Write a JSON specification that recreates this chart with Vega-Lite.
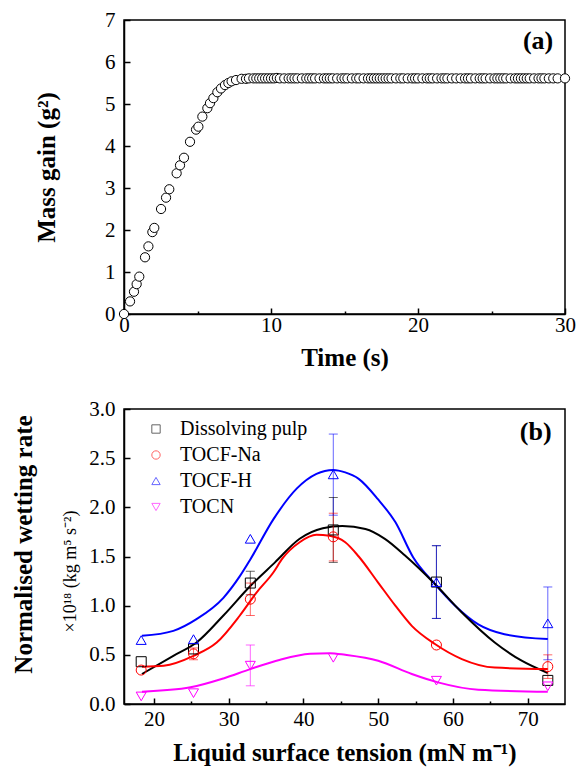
{
  "$schema": "https://vega.github.io/schema/vega-lite/v6.json",
  "padding": {"left": 10, "top": 8, "right": 5, "bottom": 5},
  "background": "white",
  "bounds": "flush",
  "spacing": 95,
  "config": {
    "font": "Liberation Serif",
    "view": {"stroke": "black", "strokeWidth": 1.5},
    "axis": {
      "grid": false,
      "domainColor": "black", "domainWidth": 1.5,
      "tickColor": "black", "tickWidth": 1.5,
      "labelColor": "black", "labelFont": "Liberation Serif", "labelFontSize": 21,
      "labelFlush": false, "labelOverlap": false,
      "titleColor": "black", "titleFont": "Liberation Serif", "titleFontSize": 25, "titleFontWeight": "bold"
    }
  },
  "datasets": {
    "mass": [
      {"t": 0, "m": 0}, {"t": 0.41, "m": 0.30}, {"t": 0.68, "m": 0.53}, {"t": 0.86, "m": 0.71}, {"t": 1.04, "m": 0.89},
      {"t": 1.43, "m": 1.35}, {"t": 1.66, "m": 1.61}, {"t": 1.93, "m": 1.95}, {"t": 2.06, "m": 2.05}, {"t": 2.52, "m": 2.50},
      {"t": 2.86, "m": 2.77}, {"t": 3.08, "m": 2.97}, {"t": 3.58, "m": 3.35}, {"t": 3.81, "m": 3.54}, {"t": 4.08, "m": 3.72},
      {"t": 4.49, "m": 4.10}, {"t": 4.90, "m": 4.39}, {"t": 5.06, "m": 4.46}, {"t": 5.33, "m": 4.70}, {"t": 5.67, "m": 4.90},
      {"t": 5.85, "m": 5.02}, {"t": 6.08, "m": 5.14}, {"t": 6.35, "m": 5.28}, {"t": 6.60, "m": 5.37}, {"t": 6.87, "m": 5.45},
      {"t": 7.10, "m": 5.50}, {"t": 7.32, "m": 5.54}, {"t": 7.62, "m": 5.57}, {"t": 8.0, "m": 5.60}, {"t": 8.3, "m": 5.60},
      {"t": 8.5, "m": 5.61}, {"t": 8.8, "m": 5.61}, {"t": 9.0, "m": 5.61}, {"t": 9.2, "m": 5.61}, {"t": 9.4, "m": 5.61},
      {"t": 9.6, "m": 5.61}, {"t": 9.8, "m": 5.61}, {"t": 10.0, "m": 5.61}, {"t": 10.2, "m": 5.61}, {"t": 10.4, "m": 5.62},
      {"t": 10.6, "m": 5.61}, {"t": 10.9, "m": 5.61}, {"t": 11.2, "m": 5.61}, {"t": 11.4, "m": 5.61}, {"t": 11.6, "m": 5.61},
      {"t": 11.8, "m": 5.61}, {"t": 12.1, "m": 5.61}, {"t": 12.4, "m": 5.61}, {"t": 12.6, "m": 5.61}, {"t": 12.8, "m": 5.61},
      {"t": 13.0, "m": 5.61}, {"t": 13.3, "m": 5.61}, {"t": 13.6, "m": 5.61}, {"t": 13.8, "m": 5.61}, {"t": 14.0, "m": 5.61},
      {"t": 14.2, "m": 5.61}, {"t": 14.5, "m": 5.61}, {"t": 14.8, "m": 5.61}, {"t": 15.0, "m": 5.61}, {"t": 15.2, "m": 5.61},
      {"t": 15.5, "m": 5.61}, {"t": 15.8, "m": 5.61}, {"t": 16.0, "m": 5.61}, {"t": 16.3, "m": 5.61}, {"t": 16.6, "m": 5.61},
      {"t": 16.8, "m": 5.61}, {"t": 17.0, "m": 5.61}, {"t": 17.2, "m": 5.61}, {"t": 17.4, "m": 5.61}, {"t": 17.6, "m": 5.61},
      {"t": 17.8, "m": 5.61}, {"t": 18.0, "m": 5.61}, {"t": 18.2, "m": 5.61}, {"t": 18.5, "m": 5.61}, {"t": 18.8, "m": 5.61},
      {"t": 19.0, "m": 5.61}, {"t": 19.3, "m": 5.61}, {"t": 19.6, "m": 5.61}, {"t": 19.8, "m": 5.61}, {"t": 20.0, "m": 5.61},
      {"t": 20.3, "m": 5.61}, {"t": 20.6, "m": 5.61}, {"t": 20.8, "m": 5.61}, {"t": 21.0, "m": 5.61}, {"t": 21.3, "m": 5.61},
      {"t": 21.6, "m": 5.61}, {"t": 21.8, "m": 5.61}, {"t": 22.0, "m": 5.61}, {"t": 22.3, "m": 5.61}, {"t": 22.6, "m": 5.61},
      {"t": 22.9, "m": 5.61}, {"t": 23.2, "m": 5.61}, {"t": 23.4, "m": 5.61}, {"t": 23.6, "m": 5.61}, {"t": 23.9, "m": 5.61},
      {"t": 24.2, "m": 5.61}, {"t": 24.4, "m": 5.61}, {"t": 24.6, "m": 5.61}, {"t": 24.9, "m": 5.61}, {"t": 25.2, "m": 5.61},
      {"t": 25.4, "m": 5.61}, {"t": 25.6, "m": 5.61}, {"t": 25.8, "m": 5.61}, {"t": 26.0, "m": 5.61}, {"t": 26.3, "m": 5.61},
      {"t": 26.6, "m": 5.61}, {"t": 26.8, "m": 5.61}, {"t": 27.0, "m": 5.61}, {"t": 27.2, "m": 5.61}, {"t": 27.4, "m": 5.61},
      {"t": 27.6, "m": 5.61}, {"t": 27.9, "m": 5.61}, {"t": 28.2, "m": 5.61}, {"t": 28.4, "m": 5.61}, {"t": 28.6, "m": 5.61},
      {"t": 28.9, "m": 5.61}, {"t": 29.2, "m": 5.61}, {"t": 29.5, "m": 5.61}, {"t": 30.0, "m": 5.61}
    ],
    "points": [
      {"series": "Dissolving pulp", "x": 18.3, "y": 0.43}, {"series": "Dissolving pulp", "x": 25.3, "y": 0.56},
      {"series": "Dissolving pulp", "x": 32.9, "y": 1.23}, {"series": "Dissolving pulp", "x": 44.0, "y": 1.77},
      {"series": "Dissolving pulp", "x": 57.8, "y": 1.24}, {"series": "Dissolving pulp", "x": 72.7, "y": 0.24},
      {"series": "TOCF-Na", "x": 18.3, "y": 0.345}, {"series": "TOCF-Na", "x": 25.3, "y": 0.51},
      {"series": "TOCF-Na", "x": 32.9, "y": 1.066}, {"series": "TOCF-Na", "x": 44.0, "y": 1.70},
      {"series": "TOCF-Na", "x": 57.8, "y": 0.60}, {"series": "TOCF-Na", "x": 72.7, "y": 0.38},
      {"series": "TOCF-H", "x": 18.3, "y": 0.65}, {"series": "TOCF-H", "x": 25.3, "y": 0.66},
      {"series": "TOCF-H", "x": 32.9, "y": 1.68}, {"series": "TOCF-H", "x": 44.0, "y": 2.335},
      {"series": "TOCF-H", "x": 57.8, "y": 1.24}, {"series": "TOCF-H", "x": 72.7, "y": 0.82},
      {"series": "TOCN", "x": 18.3, "y": 0.077}, {"series": "TOCN", "x": 25.3, "y": 0.11},
      {"series": "TOCN", "x": 32.9, "y": 0.39}, {"series": "TOCN", "x": 44.0, "y": 0.47},
      {"series": "TOCN", "x": 57.8, "y": 0.237}, {"series": "TOCN", "x": 72.7, "y": 0.18}
    ],
    "errors": [
      {"series": "Dissolving pulp", "x": 32.9, "lo": 1.11, "hi": 1.35},
      {"series": "Dissolving pulp", "x": 44.0, "lo": 1.44, "hi": 2.10},
      {"series": "Dissolving pulp", "x": 57.8, "lo": 0.87, "hi": 1.61},
      {"series": "TOCF-Na", "x": 25.3, "lo": 0.45, "hi": 0.57},
      {"series": "TOCF-Na", "x": 32.9, "lo": 0.90, "hi": 1.23},
      {"series": "TOCF-Na", "x": 44.0, "lo": 1.455, "hi": 1.94},
      {"series": "TOCF-Na", "x": 72.7, "lo": 0.26, "hi": 0.50},
      {"series": "TOCF-H", "x": 44.0, "lo": 1.92, "hi": 2.745},
      {"series": "TOCF-H", "x": 57.8, "lo": 0.87, "hi": 1.61},
      {"series": "TOCF-H", "x": 72.7, "lo": 0.45, "hi": 1.19},
      {"series": "TOCN", "x": 32.9, "lo": 0.185, "hi": 0.60}
    ],
    "curves": [
      {"series": "TOCF-H", "x": 18.4, "y": 0.693}, {"series": "TOCF-H", "x": 22.6, "y": 0.744}, {"series": "TOCF-H", "x": 25.7, "y": 0.863},
      {"series": "TOCF-H", "x": 29.3, "y": 1.08}, {"series": "TOCF-H", "x": 31.5, "y": 1.30}, {"series": "TOCF-H", "x": 32.9, "y": 1.47},
      {"series": "TOCF-H", "x": 36.0, "y": 1.88}, {"series": "TOCF-H", "x": 39.1, "y": 2.19}, {"series": "TOCF-H", "x": 41.75, "y": 2.34},
      {"series": "TOCF-H", "x": 44.0, "y": 2.38}, {"series": "TOCF-H", "x": 45.6, "y": 2.355}, {"series": "TOCF-H", "x": 47.4, "y": 2.29},
      {"series": "TOCF-H", "x": 50.0, "y": 2.08}, {"series": "TOCF-H", "x": 52.3, "y": 1.85}, {"series": "TOCF-H", "x": 54.7, "y": 1.49},
      {"series": "TOCF-H", "x": 57.6, "y": 1.22}, {"series": "TOCF-H", "x": 60.3, "y": 1.0}, {"series": "TOCF-H", "x": 63.4, "y": 0.81},
      {"series": "TOCF-H", "x": 66.9, "y": 0.71}, {"series": "TOCF-H", "x": 72.7, "y": 0.66},
      {"series": "Dissolving pulp", "x": 18.4, "y": 0.305}, {"series": "Dissolving pulp", "x": 22.6, "y": 0.49}, {"series": "Dissolving pulp", "x": 25.7, "y": 0.625},
      {"series": "Dissolving pulp", "x": 29.3, "y": 0.90}, {"series": "Dissolving pulp", "x": 32.9, "y": 1.20}, {"series": "Dissolving pulp", "x": 36.2, "y": 1.44},
      {"series": "Dissolving pulp", "x": 39.5, "y": 1.68}, {"series": "Dissolving pulp", "x": 42.6, "y": 1.787}, {"series": "Dissolving pulp", "x": 45.2, "y": 1.81},
      {"series": "Dissolving pulp", "x": 48.3, "y": 1.78}, {"series": "Dissolving pulp", "x": 50.9, "y": 1.68}, {"series": "Dissolving pulp", "x": 53.6, "y": 1.51},
      {"series": "Dissolving pulp", "x": 57.6, "y": 1.22}, {"series": "Dissolving pulp", "x": 61.2, "y": 0.93}, {"series": "Dissolving pulp", "x": 65.6, "y": 0.625},
      {"series": "Dissolving pulp", "x": 69.2, "y": 0.44}, {"series": "Dissolving pulp", "x": 72.7, "y": 0.315},
      {"series": "TOCF-Na", "x": 18.4, "y": 0.38}, {"series": "TOCF-Na", "x": 21.3, "y": 0.39}, {"series": "TOCF-Na", "x": 25.3, "y": 0.49},
      {"series": "TOCF-Na", "x": 28.4, "y": 0.625}, {"series": "TOCF-Na", "x": 31.5, "y": 0.90}, {"series": "TOCF-Na", "x": 33.7, "y": 1.13},
      {"series": "TOCF-Na", "x": 36.0, "y": 1.34}, {"series": "TOCF-Na", "x": 37.2, "y": 1.48}, {"series": "TOCF-Na", "x": 39.5, "y": 1.645},
      {"series": "TOCF-Na", "x": 41.75, "y": 1.72}, {"series": "TOCF-Na", "x": 43.5, "y": 1.71}, {"series": "TOCF-Na", "x": 45.6, "y": 1.645},
      {"series": "TOCF-Na", "x": 47.4, "y": 1.50}, {"series": "TOCF-Na", "x": 50.0, "y": 1.235}, {"series": "TOCF-Na", "x": 52.3, "y": 1.0},
      {"series": "TOCF-Na", "x": 54.5, "y": 0.795}, {"series": "TOCF-Na", "x": 57.6, "y": 0.61}, {"series": "TOCF-Na", "x": 61.2, "y": 0.457},
      {"series": "TOCF-Na", "x": 65.6, "y": 0.37}, {"series": "TOCF-Na", "x": 72.7, "y": 0.355},
      {"series": "TOCN", "x": 18.4, "y": 0.125}, {"series": "TOCN", "x": 24.9, "y": 0.17}, {"series": "TOCN", "x": 29.3, "y": 0.26},
      {"series": "TOCN", "x": 32.9, "y": 0.355}, {"series": "TOCN", "x": 36.9, "y": 0.45}, {"series": "TOCN", "x": 40.9, "y": 0.51},
      {"series": "TOCN", "x": 43.5, "y": 0.517}, {"series": "TOCN", "x": 45.6, "y": 0.50}, {"series": "TOCN", "x": 50.0, "y": 0.44},
      {"series": "TOCN", "x": 54.5, "y": 0.305}, {"series": "TOCN", "x": 58.0, "y": 0.22}, {"series": "TOCN", "x": 63.4, "y": 0.145},
      {"series": "TOCN", "x": 72.7, "y": 0.125}
    ]
  },
  "vconcat": [
    {
      "width": 441,
      "height": 294,
      "layer": [
        {
          "data": {"name": "mass"},
          "mark": {"type": "point", "shape": "circle", "filled": true, "fill": "white", "stroke": "black", "strokeWidth": 1, "size": 85, "opacity": 1},
          "encoding": {
            "x": {
              "field": "t", "type": "quantitative",
              "scale": {"domain": [0, 30], "nice": false, "zero": false},
              "axis": {
                "title": "Time (s)",
                "values": [0, 5, 10, 15, 20, 25, 30],
                "labelExpr": "datum.value % 10 === 0 ? datum.label : ''",
                "tickSize": {"condition": {"test": "datum.value % 10 === 0", "value": -6}, "value": -3},
                "labelPadding": 6,
                "titlePadding": 7
              }
            },
            "y": {
              "field": "m", "type": "quantitative",
              "scale": {"domain": [0, 7], "nice": false},
              "axis": {
                "title": "Mass gain (g²)",
                "values": [0, 0.5, 1, 1.5, 2, 2.5, 3, 3.5, 4, 4.5, 5, 5.5, 6, 6.5, 7],
                "labelExpr": "datum.value % 1 === 0 ? datum.label : ''",
                "tickSize": {"condition": {"test": "datum.value % 1 === 0", "value": -6}, "value": -3},
                "labelPadding": 15,
                "titlePadding": 45
              }
            }
          }
        },
        {
          "data": {"values": [{"label": "(a)"}]},
          "mark": {"type": "text", "font": "Liberation Serif", "fontSize": 26, "fontWeight": "bold", "align": "right", "baseline": "middle", "color": "black"},
          "encoding": {
            "text": {"field": "label"},
            "x": {"datum": 29.2, "type": "quantitative"},
            "y": {"datum": 6.49, "type": "quantitative"}
          }
        }
      ]
    },
    {
      "width": 441,
      "height": 295,
      "resolve": {"axis": {"y": "independent"}},
      "layer": [
        {
          "layer": [
            {
              "data": {"name": "curves"},
              "mark": {"type": "line", "strokeWidth": 2, "interpolate": "monotone"},
              "encoding": {
                "x": {"field": "x", "type": "quantitative", "scale": {"domain": [16, 75], "nice": false, "zero": false}},
                "y": {"field": "y", "type": "quantitative", "scale": {"domain": [0, 3], "nice": false}},
                "color": {"field": "series", "type": "nominal"}
              }
            },
            {
              "data": {"name": "errors"},
              "mark": {"type": "rule", "strokeWidth": 1, "opacity": 0.6},
              "encoding": {
                "x": {"field": "x", "type": "quantitative"},
                "y": {"field": "lo", "type": "quantitative"},
                "y2": {"field": "hi"},
                "color": {"field": "series", "type": "nominal"}
              }
            },
            {
              "data": {"name": "errors"},
              "mark": {"type": "rule", "strokeWidth": 1, "opacity": 0.6, "xOffset": -4.5, "x2Offset": 4.5},
              "encoding": {
                "x": {"field": "x", "type": "quantitative"},
                "x2": {"field": "x"},
                "y": {"field": "hi", "type": "quantitative"},
                "color": {"field": "series", "type": "nominal"}
              }
            },
            {
              "data": {"name": "errors"},
              "mark": {"type": "rule", "strokeWidth": 1, "opacity": 0.6, "xOffset": -4.5, "x2Offset": 4.5},
              "encoding": {
                "x": {"field": "x", "type": "quantitative"},
                "x2": {"field": "x"},
                "y": {"field": "lo", "type": "quantitative"},
                "color": {"field": "series", "type": "nominal"}
              }
            },
            {
              "data": {"name": "points"},
              "mark": {"type": "point", "filled": false, "strokeWidth": 1, "size": 100, "opacity": 1},
              "encoding": {
                "x": {
                  "field": "x", "type": "quantitative",
                  "axis": {
                    "title": "Liquid surface tension (mN m⁻¹)",
                    "values": [20, 25, 30, 35, 40, 45, 50, 55, 60, 65, 70],
                    "labelExpr": "datum.value % 10 === 0 ? datum.label : ''",
                    "tickSize": {"condition": {"test": "datum.value % 10 === 0", "value": -6}, "value": -3},
                    "labelPadding": 10,
                    "titlePadding": 8
                  }
                },
                "y": {
                  "field": "y", "type": "quantitative",
                  "axis": {
                    "title": "×10¹⁸ (kg m⁵ s⁻²)",
                    "titleFontSize": 18,
                    "titleFontWeight": "normal",
                    "titleY": 162,
                    "values": [0, 0.25, 0.5, 0.75, 1, 1.25, 1.5, 1.75, 2, 2.25, 2.5, 2.75, 3],
                    "labelExpr": "datum.value % 0.5 === 0 ? format(datum.value, '.1f') : ''",
                    "tickSize": {"condition": {"test": "datum.value % 0.5 === 0", "value": -6}, "value": -3},
                    "labelPadding": 15,
                    "titlePadding": 9
                  }
                },
                "color": {
                  "field": "series", "type": "nominal",
                  "scale": {"domain": ["Dissolving pulp", "TOCF-Na", "TOCF-H", "TOCN"], "range": ["#000000", "#ff0000", "#0000ff", "#ff00ff"]},
                  "legend": {"title": null, "orient": "none", "legendX": 22, "legendY": 399, "padding": 0, "labelFont": "Liberation Serif", "labelFontSize": 20, "labelColor": "black", "symbolSize": 70, "symbolStrokeWidth": 1, "rowPadding": 6, "labelOffset": 14}
                },
                "shape": {
                  "field": "series", "type": "nominal",
                  "scale": {"domain": ["Dissolving pulp", "TOCF-Na", "TOCF-H", "TOCN"], "range": ["square", "circle", "triangle-up", "triangle-down"]},
                  "legend": {"title": null, "orient": "none", "legendX": 22, "legendY": 399, "padding": 0, "labelFont": "Liberation Serif", "labelFontSize": 20, "labelColor": "black", "symbolSize": 70, "symbolStrokeWidth": 1, "rowPadding": 6, "labelOffset": 14}
                }
              }
            }
          ]
        },
        {
          "data": {"values": [{"label": "(b)"}]},
          "mark": {"type": "text", "font": "Liberation Serif", "fontSize": 26, "fontWeight": "bold", "align": "right", "baseline": "middle", "color": "black"},
          "encoding": {
            "text": {"field": "label"},
            "x": {"datum": 73.2, "type": "quantitative"},
            "y": {
              "datum": 2.765, "type": "quantitative",
              "axis": {"title": "Normalised wetting rate", "orient": "left", "labels": false, "ticks": false, "domain": false, "titlePadding": 88, "titleY": 135}
            }
          }
        }
      ]
    }
  ]
}
